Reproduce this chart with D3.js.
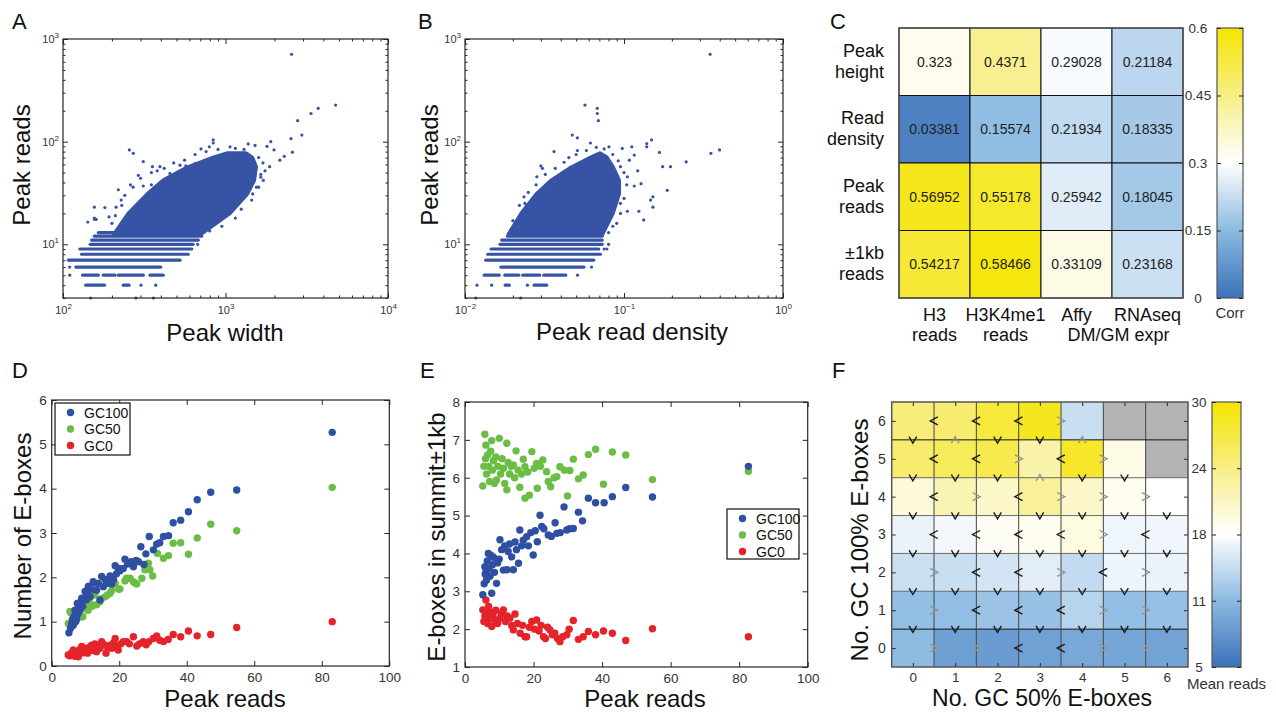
<!DOCTYPE html>
<html>
<head>
<meta charset="utf-8">
<script src="https://cdn.jsdelivr.net/npm/d3@7"></script>
<style>
  body { margin: 0; background: #fff; }
  svg { font-family: "Liberation Sans", Arial, Helvetica, sans-serif; }
</style>
</head>
<body>
<svg id="fig" width="1276" height="712"></svg>
<script>
// ===== Data =====
// A: peak width vs peak reads. Rows = integer read counts [reads, widthMin, widthMax]
const widthRowsA = [[4,138,180],[4,235,255],[5,132,165],[5,177,209],[5,219,312],[5,343,414],
  [6,120,400],[7,108,525],[8,130,590],[9,127,620],[10,147,632],[11,150,681],[12,156,713],[13,165,730]]
// dense cloud outline [width, reads]
const widthCloudA = [[206,12.5],[253,20],[332,31],[415,42],[580,56],[838,70],[1021,77],[1340,77],
  [1460,70],[1540,57],[1500,42],[1360,31],[1060,20],[700,12.5]]
// single peaks [width, reads]
const widthPointsA = [[148,3],[281,3],[360,3],[302,4],[372,4],[110,5],[110,6],[674,10],
  [2550,710],[4760,227],[3720,211],[3360,188],[2780,160],[2950,116],[2530,107],[2580,79],[2300,72],
  [2160,66],[1900,100],[1990,83],[1800,90],[1870,57],[1710,42],[256,83],[271,77],[312,64],[355,57],
  [395,57],[840,104],[840,97],[707,85],[795,89],[1066,89],[1380,95],[1520,92],[1090,71],[1250,77],
  [156,23],[156,18],[160,17.5],[142,16.5],[192,18.5],[219,34],[228,27],[212,23],[291,47],[312,37],
  [350,38],[455,49],[525,59],[570,58],[649,61],[900,72],[1320,31],[1470,31],[1200,27],[1100,25],
  [1000,22],[880,20],[810,17.5],[740,15],[156,17.5],[181,22.8],[1650,48],[1600,36],[1750,52],
  [240,30],[270,36],[300,44],[350,50],[420,55],[480,62],[560,66],[650,75],[760,80],[900,84],
  [1150,86],[1300,84],[1600,70],[1700,62],[1650,45],[1550,36],[1450,27],[1250,22],[1150,18],
  [950,15],[800,13.5],[230,24],[210,19],[200,16],[260,38],[380,52]]

// B: peak read density vs peak reads
const densRowsB = [[4,0.0179,0.019],[4,0.0272,0.0326],[5,0.0132,0.0164],[5,0.0178,0.0218],
  [5,0.0231,0.0295],[5,0.0313,0.043],[6,0.0168,0.056],[7,0.0135,0.0646],[8,0.0139,0.0711],
  [9,0.0146,0.0694],[10,0.0166,0.073],[11,0.017,0.073],[12,0.0185,0.073],[13,0.0199,0.0711]]
const densCloudB = [[0.0188,12.5],[0.0226,20],[0.0282,31],[0.035,42],[0.0465,56],[0.0617,70],
  [0.0705,77],[0.078,70],[0.085,57],[0.093,42],[0.093,31],[0.085,20],[0.073,12.5]]
const densPointsB = [[0.0117,3],[0.0224,3],[0.0119,4],[0.0147,4],[0.0247,4],[0.051,5],[0.0625,6],
  [0.075,9],[0.078,9],[0.08,10],
  [0.348,710],[0.0568,227],[0.0679,211],[0.0679,188],[0.069,160],[0.0473,116],[0.0509,109],
  [0.352,77],[0.399,83],[0.246,63.5],[0.167,78.5],[0.149,104],[0.139,96],[0.139,89],[0.175,57],
  [0.196,57],[0.187,33.6],[0.152,29],[0.147,27],[0.152,23],[0.133,17.3],[0.124,21],[0.0975,86],
  [0.112,89],[0.116,74],[0.0804,89],[0.0615,97],[0.0509,82],[0.0363,80],[0.0283,45.5],[0.0307,55],
  [0.0235,29],[0.0238,25],[0.0194,13.8],[0.0205,15],[0.105,45.5],[0.116,37],[0.128,39],[0.095,57],
  [0.095,25],[0.105,21],[0.087,23],[0.108,66],[0.122,52],[0.09,16],
  [0.02,17],[0.022,24],[0.025,32],[0.028,38],[0.032,48],[0.037,55],[0.042,63],[0.05,75],[0.058,82],
  [0.067,88],[0.075,85],[0.085,75],[0.092,65],[0.1,50],[0.104,38],[0.1,28],[0.095,20],[0.085,15],
  [0.08,13],[0.03,58],[0.045,70]]
const readsLim = [3, 1000]

// C: correlation matrix
const corrRowLabels = [['Peak','height'],['Read','density'],['Peak','reads'],['\u00b11kb','reads']]
const corrColLabels = [['H3','reads'],['H3K4me1','reads'],['Affy','DM/GM expr'],['RNAseq','']]
const corrValues = [
  [0.323, 0.4371, 0.29028, 0.21184],
  [0.03381, 0.15574, 0.21934, 0.18335],
  [0.56952, 0.55178, 0.25942, 0.18045],
  [0.54217, 0.58466, 0.33109, 0.23168]]
const corrTicks = [0, 0.15, 0.3, 0.45, 0.6]

// D / E: mean E-box counts per peak-read bin [peakReads, value]
const gc100D = [[5.1,0.75],[5.6,0.85],[5.9,0.96],[6.2,1.05],[6.4,0.92],[6.6,1.12],[6.9,1.26],[7.1,1.0],
  [7.4,1.05],[7.6,1.41],[7.8,1.18],[8.0,1.3],[8.4,1.26],[8.6,1.45],[8.9,1.53],[9.2,1.35],[9.5,1.5],
  [9.9,1.68],[10.2,1.49],[10.5,1.6],[10.8,1.75],[10.9,1.8],[11.4,1.56],[11.8,1.72],[12.3,1.9],
  [12.8,1.87],[13.3,1.71],[13.8,1.86],[14.3,1.49],[14.8,2.02],[15.3,1.79],[15.8,1.95],[16.3,1.86],
  [16.8,1.9],[17.3,2.03],[17.8,1.85],[18.3,1.95],[18.8,2.26],[19.2,2.08],[19.8,2.2],[20.2,2.15],
  [21.2,2.2],[21.7,2.41],[22.5,2.3],[23.5,2.35],[24.2,2.24],[25.0,2.38],[25.7,2.35],[26.4,2.69],
  [27.3,2.29],[27.9,2.53],[28.9,2.92],[30.1,2.62],[31.1,2.75],[32.0,2.78],[33.1,2.92],[34.6,2.94],
  [36.0,3.23],[38.2,3.29],[40.5,3.48],[43.1,3.75],[47.1,3.92],[54.8,3.97],[83.1,5.27]]
const gc50D = [[4.9,0.96],[5.4,1.23],[5.7,1.2],[6.1,1.05],[6.6,1.19],[7.0,1.1],[7.5,1.15],[8.4,1.34],
  [8.9,1.11],[9.2,1.11],[9.8,1.3],[10.6,1.26],[10.8,1.26],[11.4,1.41],[12.0,1.35],[12.8,1.6],
  [13.3,1.38],[14.3,1.45],[14.8,1.52],[15.8,1.56],[16.5,1.6],[17.3,1.64],[17.8,1.71],[18.8,1.86],
  [19.9,1.73],[20.2,1.74],[21.7,1.92],[22.2,1.98],[23.2,1.98],[24.2,1.9],[24.7,1.87],[25.2,1.85],
  [26.7,1.98],[27.6,2.17],[28.1,2.28],[28.6,2.32],[29.1,2.17],[29.9,2.03],[31.3,2.54],[33.1,2.43],
  [34.6,2.49],[36.0,2.77],[38.2,2.78],[40.5,2.52],[43.1,2.89],[47.1,3.2],[54.8,3.05],[83.1,4.03]]
const gc0D = [[4.9,0.25],[5.4,0.23],[5.9,0.3],[6.4,0.36],[6.9,0.22],[7.4,0.33],[7.9,0.21],[8.4,0.38],
  [8.9,0.44],[9.4,0.3],[9.9,0.4],[10.6,0.29],[11.2,0.42],[11.8,0.47],[12.3,0.35],[12.8,0.5],
  [13.3,0.32],[13.8,0.45],[14.3,0.4],[14.8,0.55],[15.5,0.48],[16.1,0.29],[16.6,0.42],[17.3,0.47],
  [17.8,0.4],[18.3,0.52],[18.8,0.62],[19.2,0.45],[19.7,0.36],[20.5,0.5],[21.2,0.55],[22.2,0.55],
  [23.0,0.5],[24.2,0.66],[25.2,0.45],[26.0,0.5],[27.1,0.55],[28.0,0.48],[28.8,0.55],[30.1,0.62],
  [31.1,0.68],[32.0,0.58],[33.1,0.55],[34.5,0.6],[36.0,0.71],[38.2,0.66],[40.5,0.79],[43.1,0.68],
  [47.1,0.71],[54.8,0.87],[83.1,1.0]]
const gc100E = [[5.2,2.91],[5.6,3.2],[5.8,3.65],[5.9,3.45],[6.1,3.5],[6.3,3.3],[6.5,3.8],[6.8,4.0],
  [7.0,3.6],[7.3,3.4],[7.5,3.95],[7.8,2.95],[8.0,3.7],[8.3,3.9],[8.6,3.5],[9.2,3.21],[9.5,3.75],
  [10.0,3.85],[10.2,4.36],[10.7,4.1],[11.2,3.56],[11.6,4.2],[12.2,3.57],[12.6,4.05],[13.0,4.25],
  [13.6,3.91],[14.1,3.57],[14.6,4.3],[15.0,4.1],[15.6,3.74],[16.0,4.62],[16.5,4.2],[17.0,4.35],
  [18.0,4.44],[18.5,4.2],[19.2,4.55],[19.9,3.96],[20.5,4.6],[21.1,4.31],[21.9,5.01],[22.4,4.71],
  [23.0,4.65],[24.3,4.49],[25.2,4.45],[26.3,4.81],[26.8,4.53],[27.8,4.55],[28.9,5.23],[29.7,4.62],
  [30.5,4.65],[31.6,4.66],[33.1,5.09],[34.3,4.86],[36.0,5.46],[38.1,5.34],[40.6,5.34],[43.0,5.5],
  [46.9,5.74],[54.7,5.49],[82.7,6.3]]
const gc50E = [[5.2,5.78],[5.5,6.3],[5.8,7.15],[6.0,6.5],[6.1,6.86],[6.3,6.1],[6.6,6.6],[6.9,6.3],
  [7.2,5.9],[7.5,6.7],[7.8,6.98],[8.0,6.2],[8.3,6.45],[8.6,5.85],[9.0,6.55],[9.2,5.94],[9.6,6.3],
  [10.0,7.04],[10.4,6.1],[10.8,6.5],[11.2,6.25],[11.6,5.85],[12.2,6.91],[12.2,5.68],[12.6,6.4],
  [13.0,6.1],[13.5,6.3],[14.1,6.34],[14.5,6.0],[14.9,6.71],[15.5,6.2],[16.0,5.75],[16.5,6.1],
  [17.0,6.49],[17.5,5.46],[17.5,6.29],[18.3,6.15],[18.8,5.54],[19.5,6.69],[20.2,6.25],[20.9,6.38],
  [21.1,5.72],[22.0,6.3],[22.7,6.47],[23.8,6.16],[24.3,5.9],[25.0,5.76],[26.0,6.0],[26.8,6.03],
  [27.7,6.29],[29.0,6.2],[29.9,5.52],[30.6,6.19],[31.6,6.49],[33.1,5.97],[34.5,6.07],[36.0,6.61],
  [38.1,6.75],[40.4,5.83],[43.0,6.68],[46.9,6.6],[54.7,5.95],[82.7,6.17]]
const gc0E = [[5.2,2.51],[5.5,2.2],[5.8,2.35],[6.1,2.77],[6.3,2.45],[6.6,2.15],[6.9,2.6],[7.2,2.3],
  [7.5,2.45],[7.8,2.07],[8.2,2.4],[8.6,2.25],[9.0,2.5],[9.5,2.15],[10.2,2.29],[10.6,2.4],[11.2,2.51],
  [11.8,2.2],[12.3,2.35],[13.1,2.29],[13.6,2.1],[14.1,1.98],[14.6,2.4],[15.3,2.15],[16.1,1.89],
  [16.8,2.1],[17.5,1.8],[18.0,1.8],[18.8,2.05],[19.5,2.2],[20.3,2.0],[20.9,2.24],[21.6,1.95],
  [22.2,2.1],[22.9,1.8],[23.5,1.75],[24.1,2.05],[24.8,1.98],[25.5,1.85],[26.2,1.89],[27.0,1.75],
  [27.7,1.67],[28.5,1.8],[29.7,1.85],[30.4,2.0],[31.6,2.23],[33.1,1.73],[34.5,1.8],[36.0,1.94],
  [38.1,1.85],[40.4,1.95],[43.0,1.89],[46.9,1.7],[54.7,2.01],[82.7,1.8]]
const seriesNames = ['GC100', 'GC50', 'GC0']

// F: mean reads by number of GC100 (rows, 0..6) and GC50 (cols, 0..6) E-boxes; null = no peaks
const meanReads = [
  [11.3, 9.0, 8.6, 9.1, 9.7, 9.5, 9.3],
  [11.7, 11.6, 12.1, 11.9, 13.6, 11.7, 11.8],
  [14.6, 14.5, 15.1, 15.9, 14.2, 16.5, 16.4],
  [16.4, 16.9, 18.1, 18.3, 19.1, 16.6, 16.7],
  [19.3, 21.4, 20.3, 22.7, 20.3, 18.5, 17.5],
  [24.9, 25.8, 26.3, 21.9, 28.1, 18.8, null],
  [24.3, 24.8, 27.2, 28.6, 14.5, null, null]]
// comparison between neighbouring cells along a row (col c vs c+1)
const rowArrows = [
  ['>','>','<','<','>','>'],
  ['>','<','<','<','>','>'],
  ['>','<','<','>','<','>'],
  ['<','<','<','<','>','<'],
  ['<','>','<','>','>','>'],
  ['<','<','>','<','>',''],
  ['<','<','<','>','','']]
// comparison between neighbouring cells along a column (row r vs r+1)
const colArrows = [
  ['v','v','v','v','v','v','v'],
  ['v','v','v','v','v','v','v'],
  ['v','v','v','v','v','v','v'],
  ['v','v','v','v','v','v','v'],
  ['v','v','v','^','v','v',''],
  ['v','^','v','v','^','','']]
const ebox = [0, 1, 2, 3, 4, 5, 6]
const meanTicks = [5, 11.25, 17.5, 23.75, 30]
const meanTickLabels = ['5', '11', '18', '24', '30']

// ===== Styles =====
const dotBlue = '#3653a5'
const seriesColors = ['#2f4fa2', '#6abd45', '#e5232b']
const mapColors = ['#3b71b9', '#8cbae2', '#ffffff', '#f7ee86', '#f5e500']
const textColor = '#333'
const lineColor = '#262626'
const titleSize = 24

const svg = d3.select('#fig')

function cleanAxis(g, size) {
  g.attr('font-family', null).attr('font-size', null)
  g.select('.domain').remove()
  g.selectAll('.tick line').attr('stroke', lineColor)
  g.selectAll('.tick text').attr('fill', textColor).attr('font-size', size)
}

// inward ticks on all four sides, like a boxed MATLAB axes
function boxAxes(x, y, o) {
  const [xl, xr] = x.range(), [yb, yt] = y.range()
  const g = svg.append('g')
  const sets = [[o.xt, o.yt, o.len, true]]
  if (o.xm) sets.push([o.xm, o.ym, o.mlen, false])
  sets.forEach(([xt, yt2, len, lab]) => {
    const b = g.append('g').attr('transform', `translate(0,${yb})`)
      .call(d3.axisBottom(x).tickValues(xt).tickSizeInner(-len).tickSizeOuter(0)
        .tickPadding(o.xpad).tickFormat(lab ? o.xf : () => ''))
    cleanAxis(b, o.fs)
    g.append('g').attr('transform', `translate(0,${yt})`)
      .call(d3.axisTop(x).tickValues(xt).tickSizeInner(-len).tickSizeOuter(0).tickFormat(() => ''))
      .call(cleanAxis)
    const l = g.append('g').attr('transform', `translate(${xl},0)`)
      .call(d3.axisLeft(y).tickValues(yt2).tickSizeInner(-len).tickSizeOuter(0)
        .tickPadding(o.ypad).tickFormat(lab ? o.yf : () => ''))
    cleanAxis(l, o.fs)
    g.append('g').attr('transform', `translate(${xr},0)`)
      .call(d3.axisRight(y).tickValues(yt2).tickSizeInner(-len).tickSizeOuter(0).tickFormat(() => ''))
      .call(cleanAxis)
    if (lab && o.log) {
      b.selectAll('.tick text').each(function(d) { powerLabel(d3.select(this), d) })
      l.selectAll('.tick text').each(function(d) { powerLabel(d3.select(this), d) })
    }
  })
  g.append('rect')
    .attr('x', xl).attr('y', yt).attr('width', xr - xl).attr('height', yb - yt)
    .attr('fill', 'none').attr('stroke', lineColor).attr('stroke-width', 1.2)
  return g
}

function powerLabel(t, d) {
  const e = Math.round(Math.log10(d))
  t.text('10')
  t.append('tspan').attr('dy', '-5').attr('font-size', '8px').text(String(e).replace('-', '\u2212'))
}

function panelLetter(txt, x, y) {
  svg.append('text').attr('x', x).attr('y', y).attr('font-size', 22).attr('fill', '#111').text(txt)
}

function axisTitle(txt, x, y, rotate, size) {
  svg.append('text')
    .attr('transform', `translate(${x},${y})` + (rotate ? ' rotate(-90)' : ''))
    .attr('text-anchor', 'middle').attr('font-size', size || titleSize).attr('fill', '#111').text(txt)
}

function isDecade(d) { return Math.abs(Math.log10(d) - Math.round(Math.log10(d))) < 1e-9 }

// ===== Panels A and B =====
function logScatter(x, rows, cloud, points) {
  const y = d3.scaleLog().domain(readsLim).range([298, 39])
  const g = svg.append('g')
  g.selectAll('line.row').data(rows).join('line')
    .attr('x1', d => x(d[1])).attr('x2', d => x(d[2]))
    .attr('y1', d => y(d[0])).attr('y2', d => y(d[0]))
    .attr('stroke', dotBlue).attr('stroke-width', 3.2).attr('stroke-linecap', 'round')
  g.append('path')
    .attr('d', d3.line().x(d => x(d[0])).y(d => y(d[1])).curve(d3.curveLinearClosed)(cloud))
    .attr('fill', dotBlue).attr('stroke', dotBlue).attr('stroke-width', 4).attr('stroke-linejoin', 'round')
  g.selectAll('circle').data(points).join('circle')
    .attr('cx', d => x(d[0])).attr('cy', d => y(d[1])).attr('r', 1.6).attr('fill', dotBlue)
  boxAxes(x, y, { xt: x.ticks().filter(isDecade), yt: y.ticks().filter(isDecade),
    xm: x.ticks().filter(d => !isDecade(d)), ym: y.ticks().filter(d => !isDecade(d)), len: 5, mlen: 2.5,
    xpad: 8, ypad: 4, fs: 11, log: true, xf: () => '10', yf: () => '10' })
}

const xA = d3.scaleLog().domain([100, 10000]).range([63, 388])
logScatter(xA, widthRowsA, widthCloudA, widthPointsA)
panelLetter('A', 12, 29)
axisTitle('Peak reads', 30, 165, true)
axisTitle('Peak width', 225, 341)

const xB = d3.scaleLog().domain([0.01, 1]).range([465, 783])
logScatter(xB, densRowsB, densCloudB, densPointsB)
panelLetter('B', 418, 29)
axisTitle('Peak reads', 438, 165, true)
axisTitle('Peak read density', 632, 340)

// ===== Panel C =====
const corrColor = d3.scaleLinear().domain(corrTicks).range(mapColors).clamp(true)
const cx = d3.scaleBand().domain(d3.range(corrColLabels.length)).range([899, 1183])
const cy = d3.scaleBand().domain(d3.range(corrRowLabels.length)).range([28, 298])
const cG = svg.append('g')
corrValues.forEach((row, r) => {
  row.forEach((v, c) => {
    cG.append('rect').attr('x', cx(c)).attr('y', cy(r))
      .attr('width', cx.bandwidth()).attr('height', cy.bandwidth())
      .attr('fill', corrColor(v)).attr('stroke', '#111').attr('stroke-width', 1)
    cG.append('text').attr('x', cx(c) + cx.bandwidth() / 2).attr('y', cy(r) + cy.bandwidth() / 2)
      .attr('dy', '0.36em').attr('text-anchor', 'middle').attr('font-size', 14).attr('fill', '#222')
      .text(String(v))
  })
})
cG.append('rect').attr('x', 899).attr('y', 28).attr('width', 284).attr('height', 270)
  .attr('fill', 'none').attr('stroke', '#555').attr('stroke-width', 1.5)
corrRowLabels.forEach((lines, r) => {
  const mid = cy(r) + cy.bandwidth() / 2
  lines.forEach((s, i) => {
    cG.append('text').attr('x', 884).attr('y', mid - 5 + i * 21)
      .attr('text-anchor', 'end').attr('font-size', 18).attr('fill', '#111').text(s)
  })
})
corrColLabels.forEach((lines, c) => {
  const mid = cx(c) + cx.bandwidth() / 2
  lines.forEach((s, i) => {
    // the long second line of the third label runs under the fourth column
    const shift = (i === 1 && s.length > 6) ? 42 : 0
    cG.append('text').attr('x', mid + shift).attr('y', 321 + i * 20)
      .attr('text-anchor', 'middle').attr('font-size', 18).attr('fill', '#111').text(s)
  })
})

function colorbar(id, scale, x0, x1, ticks, labels, labelX, title, titleY) {
  const [lo, hi] = scale.domain()
  const yb = scale.range()[0], yt = scale.range()[1]
  const grad = svg.append('defs').append('linearGradient').attr('id', id)
    .attr('x1', 0).attr('y1', 1).attr('x2', 0).attr('y2', 0)
  ticks.forEach((t, i) => {
    grad.append('stop').attr('offset', (t - lo) / (hi - lo)).attr('stop-color', mapColors[i])
  })
  svg.append('rect').attr('x', x0).attr('y', yt).attr('width', x1 - x0).attr('height', yb - yt)
    .attr('fill', `url(#${id})`).attr('stroke', '#555').attr('stroke-width', 1.2)
  const l = svg.append('g').attr('transform', `translate(${x0},0)`)
    .call(d3.axisLeft(scale).tickValues(ticks).tickSizeInner(-4).tickSizeOuter(0)
      .tickFormat((d, i) => labels[i]))
  cleanAxis(l, 13.5)
  l.selectAll('.tick text').attr('x', labelX - x0).attr('text-anchor', 'middle')
  svg.append('g').attr('transform', `translate(${x1},0)`)
    .call(d3.axisRight(scale).tickValues(ticks).tickSizeInner(-4).tickSizeOuter(0).tickFormat(() => ''))
    .call(cleanAxis)
  svg.append('text').attr('x', (x0 + x1) / 2).attr('y', titleY).attr('text-anchor', 'middle')
    .attr('font-size', 15).attr('fill', textColor).text(title)
}
colorbar('corrGrad', d3.scaleLinear().domain([0, 0.6]).range([298, 28]), 1217, 1243,
  corrTicks, corrTicks.map(String), 1198, 'Corr', 318)
panelLetter('C', 830, 29)

// ===== Panels D and E =====
function eboxScatter(x, y, series, legendBox) {
  const g = svg.append('g')
  ;[2, 1, 0].forEach(i => {
    g.append('g').selectAll('circle').data(series[i]).join('circle')
      .attr('cx', d => x(d[0])).attr('cy', d => y(d[1])).attr('r', 3.7).attr('fill', seriesColors[i])
  })
  boxAxes(x, y, { xt: x.ticks(5), yt: y.ticks(y.domain()[1] - y.domain()[0]), len: 5,
    xpad: 6, ypad: 5, fs: 13.5, xf: d3.format('d'), yf: d3.format('d') })
  const [lx, ly, lw, lh] = legendBox
  const lg = svg.append('g')
  lg.append('rect').attr('x', lx).attr('y', ly).attr('width', lw).attr('height', lh)
    .attr('fill', '#fff').attr('stroke', '#111').attr('stroke-width', 1.2)
  seriesNames.forEach((n, i) => {
    const yy = ly + 9.5 + i * 16.5
    lg.append('circle').attr('cx', lx + 15.5).attr('cy', yy).attr('r', 3.7).attr('fill', seriesColors[i])
    lg.append('text').attr('x', lx + 29).attr('y', yy).attr('dy', '0.36em')
      .attr('font-size', 14).attr('fill', '#111').text(n)
  })
}

const xD = d3.scaleLinear().domain([0, 100]).range([51.7, 389.3])
const yD = d3.scaleLinear().domain([0, 6]).range([666, 400])
eboxScatter(xD, yD, [gc100D, gc50D, gc0D], [55, 403, 75, 52])
panelLetter('D', 12, 378)
axisTitle('Number of E-boxes', 31, 536, true)
axisTitle('Peak reads', 225, 707)

const xE = d3.scaleLinear().domain([0, 100]).range([465, 807.7])
const yE = d3.scaleLinear().domain([1, 8]).range([667, 402])
eboxScatter(xE, yE, [gc100E, gc50E, gc0E], [727, 509, 72, 50])
panelLetter('E', 420, 378)
axisTitle('E-boxes in summit\u00b11kb', 445, 537, true)
axisTitle('Peak reads', 645, 707)

// ===== Panel F =====
const meanColor = d3.scaleLinear().domain(meanTicks).range(mapColors).clamp(true)
const fx = d3.scaleLinear().domain([-0.5, 6.5]).range([891.7, 1188])
const fy = d3.scaleLinear().domain([-0.5, 6.5]).range([667, 402])
const fG = svg.append('g')
meanReads.forEach((row, r) => {
  row.forEach((v, c) => {
    fG.append('rect').attr('x', fx(c - 0.5)).attr('y', fy(r + 0.5))
      .attr('width', fx(c + 0.5) - fx(c - 0.5)).attr('height', fy(r - 0.5) - fy(r + 0.5))
      .attr('fill', v == null ? '#b3b3b3' : meanColor(v))
  })
})
// cell edges
ebox.slice(0, 6).forEach(k => {
  fG.append('line').attr('x1', fx(k + 0.5)).attr('x2', fx(k + 0.5)).attr('y1', fy(-0.5)).attr('y2', fy(6.5))
    .attr('stroke', '#444').attr('stroke-width', 1)
  fG.append('line').attr('x1', fx(-0.5)).attr('x2', fx(6.5)).attr('y1', fy(k + 0.5)).attr('y2', fy(k + 0.5))
    .attr('stroke', (k === 0 || k === 5) ? '#111' : '#6a6a6a').attr('stroke-width', 1)
})
function chevron(sym, x, y) {
  const w = 3.8, h = 4, hv = 3.2
  const pts = { '<': [[x + w, y - h], [x - w, y], [x + w, y + h]],
                '>': [[x - w, y - h], [x + w, y], [x - w, y + h]],
                'v': [[x - w, y - hv], [x, y + hv], [x + w, y - hv]],
                '^': [[x - w, y + hv], [x, y - hv], [x + w, y + hv]] }[sym]
  fG.append('path').attr('d', d3.line()(pts)).attr('fill', 'none')
    .attr('stroke', (sym === '<' || sym === 'v') ? '#1a1a1a' : '#959595')
    .attr('stroke-width', 1.4).attr('stroke-linejoin', 'miter')
}
rowArrows.forEach((row, r) => row.forEach((s, c) => { if (s) chevron(s, fx(c + 0.5), fy(r)) }))
colArrows.forEach((row, r) => row.forEach((s, c) => { if (s) chevron(s, fx(c), fy(r + 0.5)) }))
const fAx = svg.append('g')
const fb = fAx.append('g').attr('transform', 'translate(0,667)')
  .call(d3.axisBottom(fx).tickValues(ebox).tickSizeInner(-4).tickSizeOuter(0).tickPadding(5).tickFormat(d3.format('d')))
cleanAxis(fb, 13.5)
fAx.append('g').attr('transform', 'translate(0,402)')
  .call(d3.axisTop(fx).tickValues(ebox).tickSizeInner(-4).tickSizeOuter(0).tickFormat(() => '')).call(cleanAxis)
const fl = fAx.append('g').attr('transform', `translate(${fx(-0.5)},0)`)
  .call(d3.axisLeft(fy).tickValues(ebox).tickSizeInner(-4).tickSizeOuter(0).tickPadding(6).tickFormat(d3.format('d')))
cleanAxis(fl, 14)
fAx.append('g').attr('transform', `translate(${fx(6.5)},0)`)
  .call(d3.axisRight(fy).tickValues(ebox).tickSizeInner(-4).tickSizeOuter(0).tickFormat(() => '')).call(cleanAxis)
fAx.append('rect').attr('x', fx(-0.5)).attr('y', fy(6.5)).attr('width', fx(6.5) - fx(-0.5))
  .attr('height', fy(-0.5) - fy(6.5)).attr('fill', 'none').attr('stroke', '#555').attr('stroke-width', 1.5)
colorbar('meanGrad', d3.scaleLinear().domain([5, 30]).range([667, 402]), 1212, 1241,
  meanTicks, meanTickLabels, 1199, 'Mean reads', 689)
panelLetter('F', 832, 378)
axisTitle('No. GC 100% E-boxes', 868, 540, true)
axisTitle('No. GC 50% E-boxes', 1042, 706, false, 23)
</script>
</body>
</html>
